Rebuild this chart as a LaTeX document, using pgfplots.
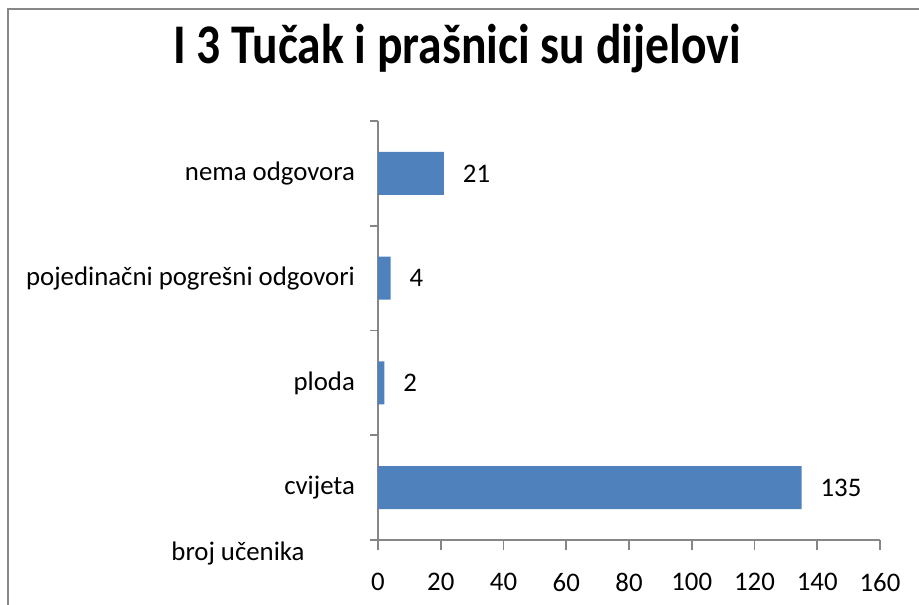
\documentclass[border=0pt]{standalone}
\usepackage{pgfplots}
\pgfplotsset{compat=1.18}
\usepackage{fontspec}
\setmainfont{Carlito}
\newfontfamily\titlefont[FakeStretch=0.85]{Carlito}
\definecolor{barblue}{HTML}{4F81BD}
\definecolor{axgray}{HTML}{868686}
\definecolor{framegray}{HTML}{878787}
\begin{document}
\begin{tikzpicture}
\useasboundingbox (0pt,0pt) rectangle (459.5pt,302pt);
\draw[framegray,line width=1.2pt] (4pt,-10pt) -- (4pt,297.5pt) -- (470pt,297.5pt);
\node[font=\titlefont\bfseries\fontsize{28}{32}\selectfont,anchor=base] at (228.5pt,270pt) {I 3 Tučak i prašnici su dijelovi};
\node[font=\fontsize{13.4}{15}\selectfont,anchor=base] at (119pt,22pt) {broj učenika};
\begin{axis}[
  at={(189pt,32pt)}, anchor=south west,
  scale only axis, width=251pt, height=209.5pt,
  xmin=0, xmax=160, ymin=0.5, ymax=4.5,
  xtick={0,20,...,160},
  ytick={1,2,3,4},
  yticklabels={cvijeta,ploda,pojedinačni pogrešni odgovori,nema odgovora},
  minor ytick={0.5,1.5,2.5,3.5,4.5},
  major tick length=0pt,
  minor tick length=4pt,
  extra x ticks={0,20,...,160}, extra x tick labels={},
  extra x tick style={major tick length=5pt},
  tick align=outside,
  axis x line*=bottom, axis y line*=left,
  axis line style={axgray,line width=0.8pt},
  every tick/.style={axgray,line width=0.8pt},
  tick label style={font=\fontsize{13.4}{15}\selectfont},
  /pgf/number format/assume math mode=true,
  xticklabel style={yshift=-13pt},
  yticklabel style={xshift=-8pt},
  xbar, bar width=21.5pt,
  nodes near coords,
  every node near coord/.append style={font=\fontsize{13.4}{15}\selectfont,xshift=6pt},
  clip=false,
]
\addplot[fill=barblue,draw=none] coordinates {(135,1) (2,2) (4,3) (21,4)};
\end{axis}
\end{tikzpicture}
\end{document}
